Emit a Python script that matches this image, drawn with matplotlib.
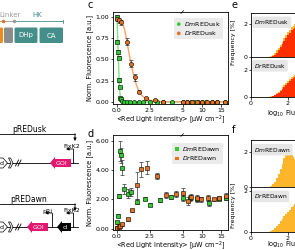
import numpy as np
import matplotlib.pyplot as plt
from matplotlib.patches import Polygon, FancyBboxPatch

plt.rcParams['font.family'] = 'DejaVu Sans'
plt.rcParams['font.size'] = 5

# panel c, pREDusk dose response
c_dm_x = [0.0, 0.03, 0.07, 0.12, 0.17, 0.2, 0.25, 0.3, 0.4, 0.55, 0.75, 1.0, 1.3, 1.65, 2.0,
          2.5, 3.0, 3.5, 4.2, 5.0, 6.0, 7.0, 8.0, 9.0, 10.0, 11.0, 12.5, 14.0, 16.0]
c_dm_y = [1.0, 0.71, 0.59, 0.52, 0.26, 0.17, 0.05, 0.03, 0.01, 0.0, 0.0, 0.0, 0.0, 0.0, 0.0,
          0.0, 0.0, 0.0, 0.0, 0.0, 0.0, 0.0, 0.0, 0.0, 0.0, 0.0, 0.0, 0.0, 0.0]
c_dm_err = [0.03, 0.02, 0.02, 0.02, 0.02, 0.01, 0.01, 0.01, 0.0, 0.0, 0.0, 0.0, 0.0, 0.0, 0.0,
            0.0, 0.0, 0.0, 0.0, 0.0, 0.0, 0.0, 0.0, 0.0, 0.0, 0.0, 0.0, 0.0, 0.0]
c_dr_x = [0.0, 0.17, 0.32, 0.73, 1.1, 1.4, 1.7, 2.2, 2.9, 3.5, 5.0, 6.2, 7.4, 8.7, 9.9, 11.2,
          12.6, 14.0, 16.0]
c_dr_y = [0.98, 0.96, 0.94, 0.71, 0.45, 0.29, 0.12, 0.04, 0.02, 0.0, 0.0, 0.0, 0.0, 0.0, 0.0,
          0.0, 0.0, 0.0, 0.0]
c_dr_err = [0.03, 0.03, 0.03, 0.04, 0.04, 0.04, 0.02, 0.02, 0.01, 0.0, 0.0, 0.0, 0.0, 0.0, 0.0,
            0.0, 0.0, 0.0, 0.0]
# fitted curves
c_dm_fit_x = [0.0, 0.03, 0.06, 0.09, 0.12, 0.15, 0.18, 0.22, 0.27, 0.33, 0.4, 0.5, 16.5]
c_dm_fit_y = [1.0, 0.9, 0.72, 0.58, 0.45, 0.32, 0.2, 0.11, 0.05, 0.02, 0.01, 0.0, 0.0]
c_dr_fit_x = [0.0, 0.2, 0.4, 0.55, 0.7, 0.85, 1.0, 1.15, 1.3, 1.45, 1.6, 1.8, 2.0, 2.3, 2.6,
              3.0, 3.5, 4.0, 16.5]
c_dr_fit_y = [0.98, 0.97, 0.93, 0.87, 0.76, 0.63, 0.5, 0.39, 0.29, 0.21, 0.15, 0.09, 0.06,
              0.03, 0.015, 0.007, 0.002, 0.0, 0.0]

# panel d, pREDawn dose response
d_dm_x = [0.0, 0.03, 0.07, 0.12, 0.2, 0.32, 0.37, 0.5, 0.8, 1.05, 1.5, 2.1, 2.5, 3.3, 4.1,
          5.0, 6.8, 8.6, 11.8, 14.5, 16.3]
d_dm_y = [0.05, 0.45, 0.9, 2.25, 5.3, 5.0, 4.15, 2.7, 2.4, 2.5, 1.85, 2.05, 1.65, 1.95, 2.15,
          2.1, 2.1, 2.0, 1.75, 2.05, 2.1]
d_dm_err = [0.05, 0.1, 0.1, 0.15, 0.7, 0.5, 0.5, 0.35, 0.3, 0.3, 0.15, 0.1, 0.1, 0.15, 0.15,
            0.2, 0.2, 0.15, 0.2, 0.1, 0.1]
d_dr_x = [0.0, 0.12, 0.25, 0.4, 0.8, 1.15, 1.5, 1.8, 2.3, 3.0, 3.7, 4.5, 5.05, 6.4, 7.2, 8.6,
          9.8, 11.6, 13.2, 14.5, 16.3]
d_dr_y = [0.05, 0.1, 0.2, 0.3, 0.65, 1.25, 2.95, 4.05, 4.15, 3.6, 2.3, 2.35, 2.45, 1.9, 2.15,
          2.1, 2.0, 2.1, 2.0, 2.1, 2.2]
d_dr_err = [0.05, 0.05, 0.05, 0.1, 0.1, 0.1, 0.9, 0.5, 0.45, 0.2, 0.2, 0.2, 0.3, 0.25, 0.2,
            0.2, 0.15, 0.2, 0.1, 0.15, 0.25]

# panels e/f, flow cytometry histograms (log10 fluorescence, frequency %)
h_x = [0.9, 1.0, 1.1, 1.2, 1.3, 1.4, 1.5, 1.6, 1.7, 1.8, 1.9, 2.0, 2.1, 2.2, 2.3, 2.4, 2.5]
e_dm_dark = [0.0, 0.03, 0.07, 0.14, 0.25, 0.4, 0.56, 0.74, 0.93, 1.12, 1.32, 1.5, 1.66, 1.8,
             1.9, 1.98, 2.0]
e_dm_red = [0.0, 0.0, 0.02, 0.06, 0.14, 0.27, 0.42, 0.58, 0.76, 0.95, 1.14, 1.32, 1.48, 1.62,
            1.72, 1.78, 1.8]
e_dr_dark = [0.0, 0.02, 0.05, 0.1, 0.18, 0.28, 0.4, 0.54, 0.7, 0.86, 1.02, 1.18, 1.32, 1.44,
             1.54, 1.62, 1.66]
e_dr_red = [0.0, 0.0, 0.02, 0.05, 0.11, 0.2, 0.3, 0.43, 0.57, 0.72, 0.88, 1.03, 1.17, 1.29,
            1.39, 1.46, 1.5]
f_dm = [0.0, 0.02, 0.05, 0.15, 0.3, 0.5, 0.75, 1.05, 1.35, 1.65, 1.85, 1.95, 1.92, 1.84, 1.74,
        1.62, 1.5]
f_dr = [0.0, 0.02, 0.05, 0.1, 0.18, 0.28, 0.4, 0.52, 0.65, 0.78, 0.9, 1.0, 1.1, 1.2, 1.28,
        1.35, 1.4]

x_ticks = [0, 2.5, 5, 10, 15]
x_ticklabels = ['0.0', '2.5', '5', '10', '15']

GREEN = '#2ECC2E'
GREEN_L = '#7EE37E'
ORANGE = '#E8701E'
ORANGE_L = '#F7A565'
TEAL = '#458F8A'
PINK = '#E5166F'
H_OR = '#FDB62C'
H_RED = '#FF2E00'
FS = 4.5

W, H = 295, 250
fig = plt.figure(figsize=(W / 100, H / 100), dpi=100)


def ax_px(l, t, r, b):
    return fig.add_axes([l / W, 1 - b / H, (r - l) / W, (b - t) / H])


def fwd(x):
    x = np.asarray(x, dtype=float)
    return np.where(x <= 5, x, 5 + (x - 5) * 0.29)


def inv(y):
    y = np.asarray(y, dtype=float)
    return np.where(y <= 5, y, 5 + (y - 5) / 0.29)


def style_dose(ax):
    ax.set_xscale('function', functions=(fwd, inv))
    ax.set_xlim(-0.3, 16.8)
    ax.set_xticks(x_ticks)
    ax.set_xticklabels(x_ticklabels)
    ax.tick_params(length=1.8, width=0.5, pad=1, labelsize=FS)
    for s in ax.spines.values():
        s.set_linewidth(0.6)
    ax.set_xlabel('<Red Light Intensity> [µW cm$^{-2}$]', fontsize=FS + 0.2, labelpad=0.2)
    ax.set_ylabel('Norm. Fluorescence [a.u.]', fontsize=FS + 0.3, labelpad=2)
    # break mark on top spine
    ax.plot([4.85, 5.15], [0.985, 1.015], transform=ax.get_xaxis_transform(),
            color='k', lw=0.5, clip_on=False)


def err_pts(ax, x, y, e, color, marker):
    ax.errorbar(x, y, yerr=e, fmt='none', ecolor='#333333', elinewidth=0.5,
                capsize=1.3, capthick=0.5, zorder=3)
    ax.scatter(x, y, s=9, marker=marker, c=color, edgecolors='k', linewidths=0.4, zorder=4)


# ---- panel c
axc = ax_px(113, 12, 228, 104)
axc.plot(c_dm_fit_x, c_dm_fit_y, color=GREEN_L, lw=1.0, zorder=2)
axc.plot(c_dr_fit_x, c_dr_fit_y, color=ORANGE_L, lw=1.0, zorder=2)
err_pts(axc, c_dm_x[:8], c_dm_y[:8], c_dm_err[:8], GREEN, 's')
err_pts(axc, c_dm_x[8:], c_dm_y[8:], c_dm_err[8:], GREEN, 'o')
err_pts(axc, c_dr_x, c_dr_y, c_dr_err, ORANGE, 'o')
axc.set_ylim(-0.025, 1.06)
axc.set_yticks([0, 0.25, 0.5, 0.75, 1.0])
axc.set_yticklabels(['0.00', '0.25', '0.50', '0.75', '1.00'])
style_dose(axc)
hc = [axc.scatter([], [], s=7, marker='o', c=GREEN, edgecolors='none'),
      axc.scatter([], [], s=7, marker='o', c=ORANGE, edgecolors='none')]
lg = axc.legend(hc, [r'$\it{Dm}$REDusk', r'$\it{Dr}$REDusk'], loc='upper right',
                bbox_to_anchor=(0.98, 0.97), fontsize=FS, frameon=True, handletextpad=0.3,
                borderpad=0.3, labelspacing=0.2, handlelength=1.0, framealpha=1)
lg.get_frame().set_facecolor('#EBEBEB')
lg.get_frame().set_edgecolor('none')

# ---- panel d
axd = ax_px(113, 135, 228, 230)
err_pts(axd, d_dm_x, d_dm_y, d_dm_err, GREEN, 's')
err_pts(axd, d_dr_x, d_dr_y, d_dr_err, ORANGE, 's')
axd.set_ylim(-0.08, 6.38)
axd.set_yticks([0, 2, 4, 6])
axd.set_yticklabels(['0.00', '2.00', '4.00', '6.00'])
style_dose(axd)
hd = [axd.scatter([], [], s=7, marker='s', c=GREEN, edgecolors='none'),
      axd.scatter([], [], s=7, marker='s', c=ORANGE, edgecolors='none')]
lg = axd.legend(hd, [r'$\it{Dm}$REDawn', r'$\it{Dr}$REDawn'], loc='upper right',
                bbox_to_anchor=(0.98, 0.95), fontsize=FS, frameon=True, handletextpad=0.3,
                borderpad=0.3, labelspacing=0.2, handlelength=1.0, framealpha=1)
lg.get_frame().set_facecolor('#EBEBEB')
lg.get_frame().set_edgecolor('none')


# ---- panels e/f histograms
def hist_ax(t, b, ymax, layers, name, bottom=False):
    ax = ax_px(251, t, 251 + 4.0 * 18.5, b)
    for vals, col in layers:
        ax.fill_between(h_x, 0, vals, step='mid', color=col, lw=0)
    ax.set_xlim(0, 4)
    ax.set_ylim(0, ymax)
    ax.set_yticks([0, 2])
    ax.set_xticks([0, 2])
    ax.tick_params(length=1.8, width=0.5, pad=1, labelsize=FS)
    if not bottom:
        ax.tick_params(axis='x', bottom=False, labelbottom=False)
    for s in ax.spines.values():
        s.set_linewidth(0.6)
    ax.text(0.04, 0.88, name, transform=ax.transAxes, fontsize=4.3, va='top', ha='left',
            bbox=dict(boxstyle='round,pad=0.3', fc='#E6E6E6', ec='none'))
    return ax


hist_ax(13, 57, 2.66, [(e_dm_dark, H_OR), (e_dm_red, H_RED)], r'$\it{Dm}$REDusk')
hist_ax(57, 97, 2.92, [(e_dr_dark, H_OR), (e_dr_red, H_RED)], r'$\it{Dr}$REDusk', bottom=True)
hist_ax(140, 187, 2.7, [(f_dm, H_OR)], r'$\it{Dm}$REDawn')
hist_ax(187, 232, 2.2, [(f_dr, H_OR)], r'$\it{Dr}$REDawn', bottom=True)
for ly in (114, 245):
    fig.text(267 / W, 1 - ly / H, 'log$_{10}$ Fluorescence [a.u.]', fontsize=FS + 0.2,
             ha='left', va='center')
fig.text(234 / W, 1 - 42 / H, 'Frequency [%]', rotation=90, fontsize=FS, ha='center', va='center')
fig.text(234 / W, 1 - 205 / H, 'Frequency [%]', rotation=90, fontsize=FS, ha='center', va='center')

# panel letters
for lx, ly, s in [(88, 5, 'c'), (88, 134, 'd'), (232, 5, 'e'), (232, 130, 'f')]:
    fig.text(lx / W, 1 - ly / H, s, fontsize=7, ha='left', va='center')

# ---- schematic on the left
dax = fig.add_axes([0, 0, 1, 1], zorder=-1)
dax.set_xlim(0, W)
dax.set_ylim(H, 0)
dax.axis('off')

# domain bar
dax.text(10, 15, 'Linker', color='#9A9A9A', fontsize=5, ha='center', va='center')
dax.text(37, 15, 'HK', color=TEAL, fontsize=5, ha='center', va='center')
dax.plot([0, 14], [21, 21], color='#9A9A9A', lw=0.6)
dax.plot([14, 63], [21, 21], color=TEAL, lw=0.6)
dax.plot([63, 63], [19.5, 22.5], color=TEAL, lw=0.6)
dax.plot([2.7], [21], 'o', ms=1.5, color=ORANGE)
dax.plot([14], [21], 'o', ms=1.5, color='#9A9A9A')
for x0, x1, col, lab in [(-6, 3, '#F08A1C', ''), (4, 13, '#8C8C8C', ''),
                         (14.5, 37.5, TEAL, 'DHp'), (39.5, 63, TEAL, 'CA')]:
    dax.add_patch(FancyBboxPatch((x0, 27.5), x1 - x0, 15.5, boxstyle='round,pad=0,rounding_size=1.5',
                                 fc=col, ec='none'))
    if lab:
        dax.text((x0 + x1) / 2, 35.5, lab, color='white', fontsize=5, ha='center', va='center')


def gene(xt, xr, yc, col, lab):
    hl = 5
    pts = [(xt, yc), (xt + hl, yc - 6), (xt + hl, yc - 4), (xr, yc - 4), (xr, yc + 4),
           (xt + hl, yc + 4), (xt + hl, yc + 6)]
    dax.add_patch(Polygon(pts, closed=True, fc=col, ec='none', zorder=3))
    dax.text((xt + hl * 0.5 + xr) / 2, yc + 0.3, lab, color='white', fontsize=4.5,
             ha='center', va='center', zorder=4)


def promoter(x, yb, xl):
    dax.plot([x, x], [yb, yb - 14], color='k', lw=0.6)
    dax.annotate('', xy=(xl, yb - 14), xytext=(x + 0.3, yb - 14),
                 arrowprops=dict(arrowstyle='-|>', lw=0.6, mutation_scale=4, color='k',
                                 shrinkA=0, shrinkB=0))


def construct(ytitle, name, yb):
    dax.text(29, ytitle, name, fontsize=5.5, ha='center', va='center')
    dax.plot([0, 75], [ytitle + 4, ytitle + 4], color='k', lw=0.6)
    dax.annotate('', xy=(75, ytitle + 11), xytext=(75, ytitle + 3.7),
                 arrowprops=dict(arrowstyle='-|>', lw=0.6, mutation_scale=4, color='k',
                                 shrinkA=0, shrinkB=0))
    dax.plot([0, 78], [yb, yb], color='k', lw=0.6, zorder=1)
    # upstream gene (outlined) and terminator-like chevron
    dax.add_patch(Polygon([(-6, yb - 5), (3, yb - 5), (7.5, yb), (3, yb + 5), (-6, yb + 5)],
                          closed=True, fc='white', ec='k', lw=0.5, zorder=2))
    dax.text(1.2, yb + 0.5, 'd', fontsize=4.5, ha='center', va='center', zorder=3)
    dax.add_patch(Polygon([(8.5, yb - 5), (10.5, yb - 5), (13, yb), (10.5, yb + 5), (8.5, yb + 5),
                           (11, yb)], closed=True, fc='white', ec='k', lw=0.5, zorder=2))
    for dx in (0, 2.5):
        dax.plot([15.5 + dx, 18.5 + dx], [yb + 3, yb - 3], color='k', lw=0.6, zorder=3)
    dax.text(71.5, yb - 16, 'FixK2', fontsize=4.5, ha='center', va='center')
    promoter(73, yb, 66)


construct(130, 'pREDusk', 163)
gene(50, 71, 163, PINK, 'GOI')

construct(200, 'pREDawn', 227)
gene(27, 48, 227, PINK, 'GOI')
gene(57, 71, 227, 'black', 'cI')
dax.text(47, 211, 'pRi', fontsize=4.5, ha='center', va='center')
promoter(51.5, 227, 45)

fig.savefig('out.png', dpi=100)
